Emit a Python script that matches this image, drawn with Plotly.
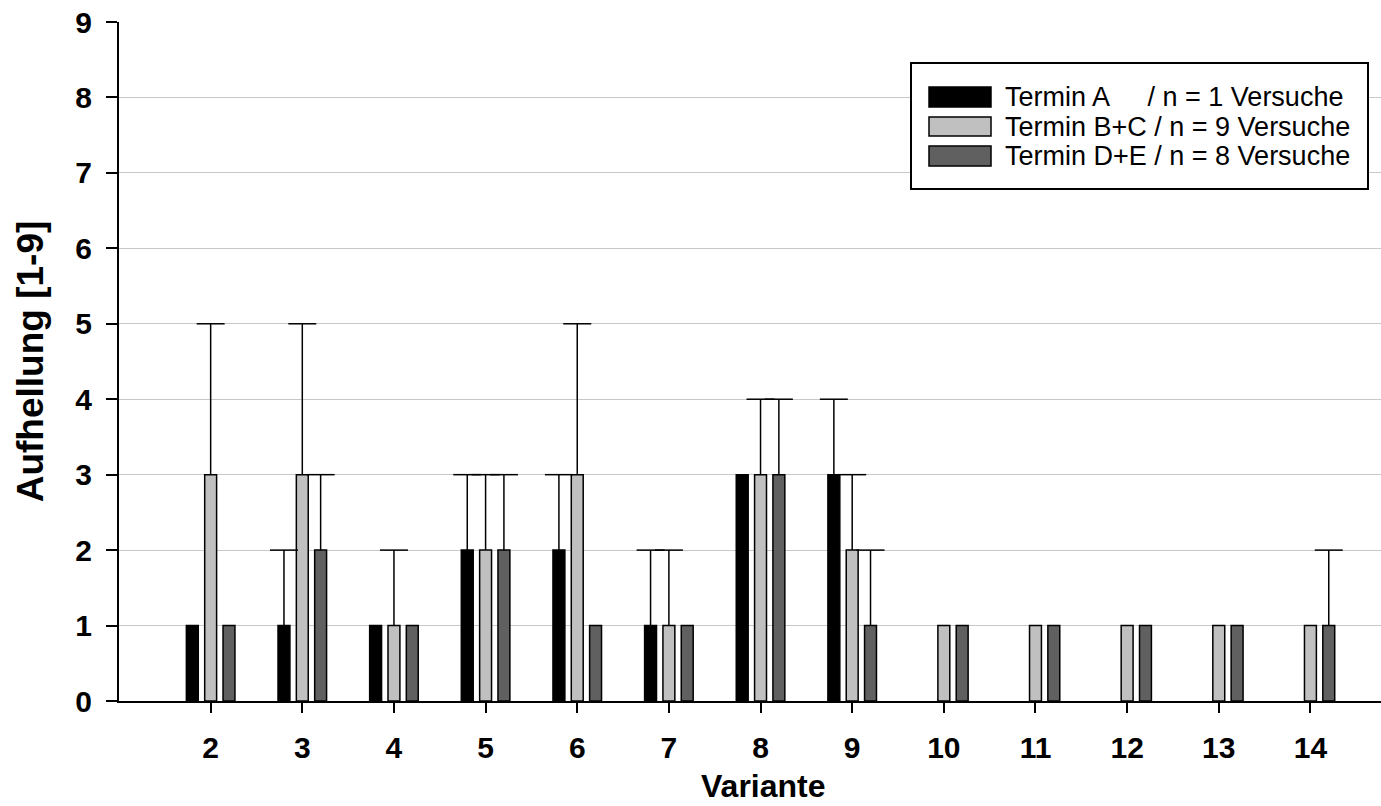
import plotly.graph_objects as go

# ---------------- data ----------------
categories = [2, 3, 4, 5, 6, 7, 8, 9, 10, 11, 12, 13, 14]
series_names = [
    "Termin A\u00a0\u00a0\u00a0\u00a0\u00a0/ n = 1 Versuche",
    "Termin B+C / n = 9 Versuche",
    "Termin D+E / n = 8 Versuche",
]
values_A = [1, 1, 1, 2, 2, 1, 3, 3, None, None, None, None, None]
err_A = [None, 1, None, 1, 1, 1, None, 1, None, None, None, None, None]
values_BC = [3, 3, 1, 2, 3, 1, 3, 2, 1, 1, 1, 1, 1]
err_BC = [2, 2, 1, 1, 2, 1, 1, 1, None, None, None, None, None]
values_DE = [1, 2, 1, 2, 1, 1, 3, 1, 1, 1, 1, 1, 1]
err_DE = [None, 1, None, 1, None, None, 1, 1, None, None, None, None, 1]
y_ticks = [0, 1, 2, 3, 4, 5, 6, 7, 8, 9]
x_title = "Variante"
y_title = "Aufhellung [1-9]"

colors = ["#000000", "#c0c0c0", "#606060"]
series_values = [values_A, values_BC, values_DE]
series_errors = [err_A, err_BC, err_DE]

# ---------------- layout geometry ----------------
W, H = 1381, 806
ML, MR, MT, MB = 119, 0, 22, 105
PW, PH = W - ML - MR, H - MT - MB
FONT = "Arial, Liberation Sans, Helvetica, sans-serif"

slot = 0.2  # group slot (bargap 0.4, 3 traces)

fig = go.Figure()

for i, (name, vals, col) in enumerate(zip(series_names, series_values, colors)):
    fig.add_trace(go.Bar(
        x=categories, y=vals, name=name,
        marker=dict(color=col, line=dict(color="#000000", width=1.5)),
        showlegend=False, hoverinfo="skip",
    ))

# upper error bars (stems + caps), drawn at each bar's centre
for i, (vals, errs) in enumerate(zip(series_values, series_errors)):
    off = (i - 1) * slot
    xs, ys, es = [], [], []
    for c, v, e in zip(categories, vals, errs):
        if v is not None and e is not None:
            xs.append(c + off)
            ys.append(v + e)
            es.append(e)
    fig.add_trace(go.Scatter(
        x=xs, y=ys, mode="markers",
        marker=dict(symbol="line-ew", size=20, color="#000000",
                    line=dict(color="#000000", width=1.5)),
        error_y=dict(type="data", symmetric=False, array=[0] * len(es),
                     arrayminus=es, width=0, thickness=1.5, color="#000000"),
        showlegend=False, hoverinfo="skip",
    ))

# ---------------- manual legend ----------------
def px2x(px):
    return (px - ML) / PW

def py2y(py):
    return (H - MB - py) / PH

shapes = [dict(type="rect", xref="paper", yref="paper",
               x0=px2x(911), x1=px2x(1368), y0=py2y(189), y1=py2y(63),
               line=dict(color="#000000", width=2), fillcolor="#ffffff", layer="above")]
annotations = []
rows = [(87, 107), (117, 136), (146, 166)]
for (t, b), name, col in zip(rows, series_names, colors):
    shapes.append(dict(type="rect", xref="paper", yref="paper",
                       x0=px2x(929), x1=px2x(991), y0=py2y(b), y1=py2y(t),
                       line=dict(color="#000000", width=1.5), fillcolor=col, layer="above"))
    annotations.append(dict(xref="paper", yref="paper", x=px2x(1003), y=py2y((t + b) / 2),
                            xanchor="left", yanchor="middle", showarrow=False, text=name,
                            font=dict(family=FONT, size=27, color="#000000")))

# x-axis title (as annotation so it can sit lower than Plotly's margin clamp)
annotations.append(dict(xref="paper", yref="paper", x=px2x(763), y=py2y(805),
                        xanchor="center", yanchor="bottom", showarrow=False, text=x_title,
                        borderpad=0,
                        font=dict(family=FONT, size=32, weight="bold", color="#000000")))

fig.update_layout(
    width=W, height=H,
    margin=dict(l=ML, r=MR, t=MT, b=MB, autoexpand=False),
    paper_bgcolor="#ffffff", plot_bgcolor="#ffffff",
    barmode="group", bargap=0.4, bargroupgap=0.35,
    shapes=shapes, annotations=annotations,
    hovermode=False,
    font=dict(family=FONT, color="#000000"),
)

fig.update_xaxes(
    range=[1.0, 14.77], tickmode="array", tickvals=categories,
    ticktext=[str(c) for c in categories],
    showline=True, linecolor="#000000", linewidth=2,
    ticks="outside", ticklen=10, tickwidth=2, tickcolor="#000000",
    ticklabelstandoff=9,
    showgrid=False, zeroline=False,
    tickfont=dict(family=FONT, size=30, weight="bold", color="#000000"),
)
fig.update_yaxes(
    range=[0, 9], tickmode="array", tickvals=y_ticks,
    ticktext=[str(v) for v in y_ticks],
    showline=True, linecolor="#000000", linewidth=2,
    ticks="outside", ticklen=11, tickwidth=2, tickcolor="#000000",
    ticklabelstandoff=8,
    showgrid=True, gridcolor="#c8c8c8", gridwidth=1, zeroline=False,
    tickfont=dict(family=FONT, size=30, weight="bold", color="#000000"),
    title=dict(text=y_title, standoff=20,
               font=dict(family=FONT, size=37, weight="bold", color="#000000")),
)

fig.write_html("out.html", config={"displayModeBar": False})
